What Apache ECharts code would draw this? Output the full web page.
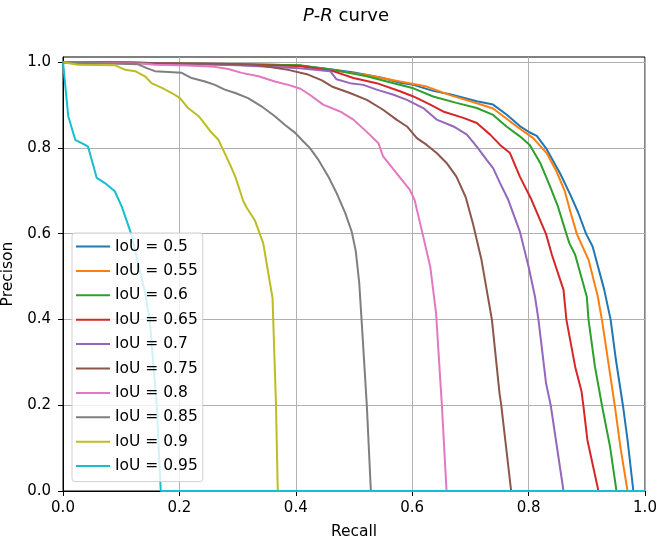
<!DOCTYPE html>
<html>
<head>
<meta charset="utf-8">
<script src="https://cdn.jsdelivr.net/npm/echarts@6/dist/echarts.min.js"></script>
<style>
  html, body { margin: 0; padding: 0; background: #fff; }
  #chart { width: 660px; height: 541px; }
</style>
</head>
<body>
<div id="chart"></div>
<script>
// tick positions on both axes
const xTicks = [0, 0.2, 0.4, 0.6, 0.8, 1.0]
const yTicks = [0, 0.2, 0.4, 0.6, 0.8, 1.0]

const iouNames = ['IoU = 0.5', 'IoU = 0.55', 'IoU = 0.6', 'IoU = 0.65', 'IoU = 0.7',
  'IoU = 0.75', 'IoU = 0.8', 'IoU = 0.85', 'IoU = 0.9', 'IoU = 0.95']
const colors = ['#1f77b4', '#ff7f0e', '#2ca02c', '#d62728', '#9467bd',
  '#8c564b', '#e377c2', '#7f7f7f', '#bcbd22', '#17becf']

// [recall, precision]
const iou50 = [[0, 1], [0.1, 0.999], [0.2, 0.997], [0.3, 0.995], [0.4, 0.993], [0.45, 0.985],
  [0.5, 0.976], [0.55, 0.963], [0.579, 0.952], [0.602, 0.947], [0.636, 0.933], [0.665, 0.925],
  [0.711, 0.909], [0.739, 0.901], [0.762, 0.878], [0.785, 0.851], [0.802, 0.836], [0.814, 0.828],
  [0.831, 0.797], [0.854, 0.741], [0.872, 0.690], [0.885, 0.650], [0.899, 0.599], [0.910, 0.570],
  [0.930, 0.469], [0.941, 0.399], [0.950, 0.306], [0.962, 0.2], [0.970, 0.119], [0.980, 0], [1, 0]]
const iou55 = [[0, 1], [0.1, 0.999], [0.2, 0.997], [0.3, 0.995], [0.4, 0.993], [0.45, 0.984],
  [0.493, 0.975], [0.522, 0.970], [0.579, 0.955], [0.625, 0.943], [0.665, 0.923], [0.711, 0.904],
  [0.739, 0.892], [0.768, 0.862], [0.791, 0.839], [0.808, 0.823], [0.831, 0.788], [0.848, 0.745],
  [0.862, 0.700], [0.872, 0.650], [0.883, 0.599], [0.903, 0.539], [0.919, 0.453], [0.926, 0.399],
  [0.937, 0.30], [0.948, 0.2], [0.958, 0.10], [0.970, 0], [1, 0]]
const iou60 = [[0, 1], [0.1, 0.999], [0.2, 0.997], [0.3, 0.995], [0.407, 0.993], [0.464, 0.982],
  [0.522, 0.967], [0.568, 0.951], [0.602, 0.939], [0.636, 0.920], [0.676, 0.905], [0.711, 0.893],
  [0.739, 0.877], [0.762, 0.850], [0.785, 0.827], [0.802, 0.807], [0.820, 0.765], [0.837, 0.710],
  [0.850, 0.665], [0.865, 0.599], [0.870, 0.578], [0.880, 0.551], [0.900, 0.453], [0.903, 0.399],
  [0.914, 0.290], [0.926, 0.2], [0.940, 0.103], [0.951, 0], [1, 0]]
const iou65 = [[0, 1], [0.1, 0.999], [0.2, 0.996], [0.3, 0.994], [0.407, 0.991], [0.464, 0.979],
  [0.499, 0.963], [0.539, 0.951], [0.579, 0.932], [0.602, 0.920], [0.631, 0.901], [0.653, 0.885],
  [0.688, 0.870], [0.711, 0.858], [0.734, 0.831], [0.751, 0.807], [0.768, 0.788], [0.785, 0.733],
  [0.805, 0.679], [0.830, 0.599], [0.840, 0.551], [0.860, 0.469], [0.865, 0.399], [0.880, 0.290],
  [0.891, 0.232], [0.894, 0.2], [0.901, 0.119], [0.920, 0], [1, 0]]
const iou70 = [[0, 1], [0.1, 0.999], [0.2, 0.996], [0.3, 0.993], [0.407, 0.986], [0.459, 0.979],
  [0.470, 0.960], [0.493, 0.951], [0.516, 0.947], [0.539, 0.936], [0.568, 0.924], [0.591, 0.912],
  [0.619, 0.893], [0.642, 0.866], [0.671, 0.850], [0.694, 0.831], [0.711, 0.803], [0.728, 0.772],
  [0.739, 0.753], [0.751, 0.718], [0.765, 0.679], [0.785, 0.605], [0.800, 0.523], [0.811, 0.453],
  [0.817, 0.399], [0.830, 0.251], [0.838, 0.2], [0.860, 0], [1, 0]]
const iou75 = [[0, 1], [0.1, 0.998], [0.2, 0.997], [0.273, 0.996], [0.330, 0.994], [0.387, 0.982],
  [0.421, 0.971], [0.444, 0.958], [0.464, 0.942], [0.493, 0.928], [0.522, 0.912], [0.550, 0.889],
  [0.573, 0.866], [0.591, 0.850], [0.608, 0.823], [0.625, 0.807], [0.642, 0.788], [0.659, 0.765],
  [0.676, 0.733], [0.692, 0.685], [0.705, 0.620], [0.719, 0.539], [0.737, 0.399], [0.750, 0.228],
  [0.753, 0.2], [0.770, 0], [1, 0]]
const iou80 = [[0, 1], [0.138, 0.996], [0.158, 0.994], [0.215, 0.992], [0.261, 0.989], [0.284, 0.984],
  [0.307, 0.975], [0.336, 0.967], [0.364, 0.955], [0.387, 0.947], [0.408, 0.938], [0.424, 0.924],
  [0.447, 0.901], [0.476, 0.885], [0.499, 0.866], [0.527, 0.831], [0.542, 0.811], [0.550, 0.780],
  [0.573, 0.741], [0.596, 0.702], [0.604, 0.679], [0.618, 0.599], [0.631, 0.523], [0.641, 0.415],
  [0.651, 0.2], [0.659, 0], [1, 0]]
const iou85 = [[0, 1], [0.05, 0.998], [0.129, 0.995], [0.144, 0.986], [0.158, 0.979], [0.204, 0.975],
  [0.221, 0.963], [0.244, 0.955], [0.261, 0.947], [0.278, 0.936], [0.296, 0.928], [0.318, 0.916],
  [0.341, 0.897], [0.364, 0.874], [0.381, 0.854], [0.399, 0.835], [0.413, 0.815], [0.424, 0.800],
  [0.439, 0.772], [0.456, 0.733], [0.470, 0.695], [0.485, 0.648], [0.496, 0.605], [0.503, 0.560],
  [0.509, 0.485], [0.513, 0.399], [0.522, 0.2], [0.529, 0], [1, 0]]
const iou90 = [[0, 1], [0.026, 0.994], [0.089, 0.993], [0.107, 0.982], [0.124, 0.979], [0.141, 0.967],
  [0.152, 0.951], [0.170, 0.940], [0.187, 0.928], [0.201, 0.916], [0.215, 0.893], [0.233, 0.874],
  [0.238, 0.866], [0.253, 0.839], [0.267, 0.819], [0.275, 0.796], [0.287, 0.761], [0.296, 0.733],
  [0.310, 0.675], [0.316, 0.660], [0.330, 0.630], [0.344, 0.578], [0.360, 0.450], [0.366, 0.2],
  [0.369, 0], [1, 0]]
const iou95 = [[0, 1], [0.009, 0.874], [0.021, 0.819], [0.038, 0.807], [0.043, 0.803], [0.058, 0.730],
  [0.072, 0.718], [0.089, 0.699], [0.101, 0.663], [0.117, 0.600], [0.140, 0.469], [0.149, 0.399],
  [0.161, 0.2], [0.168, 0], [1, 0]]

const curves = [iou50, iou55, iou60, iou65, iou70, iou75, iou80, iou85, iou90, iou95]

const font = 'DejaVu Sans'
const chart = echarts.init(document.getElementById('chart'))
chart.setOption({
  animation: false,
  backgroundColor: '#fff',
  color: colors,
  title: {
    text: '{i|P}{n|-}{i|R}{n| curve}',
    left: 341,
    textAlign: 'center',
    top: 2,
    textStyle: {
      fontWeight: 'normal',
      rich: {
        i: { fontFamily: font, fontSize: 18, fontStyle: 'italic', fontWeight: 'normal', color: '#000' },
        n: { fontFamily: font, fontSize: 18, fontWeight: 'normal', color: '#000' }
      }
    }
  },
  grid: {
    left: 63,
    right: 15,
    top: 57,
    bottom: 50,
    containLabel: false,
    outerBoundsMode: 'none',
    show: true,
    borderColor: '#000',
    borderWidth: 1
  },
  legend: {
    orient: 'vertical',
    left: 72,
    top: 233,
    data: iouNames,
    icon: 'rect',
    itemWidth: 34,
    itemHeight: 2,
    itemGap: 7.4,
    padding: [5, 5, 7, 4],
    backgroundColor: 'rgba(255,255,255,0.8)',
    borderColor: '#d0d0d0',
    borderWidth: 1,
    borderRadius: 3,
    textStyle: { fontFamily: font, fontSize: 15.5, lineHeight: 17, color: '#000' }
  },
  xAxis: {
    type: 'value',
    min: 0,
    max: 1,
    name: 'Recall',
    nameLocation: 'middle',
    nameGap: 33,
    nameTextStyle: { fontFamily: font, fontSize: 15.5, color: '#000' },
    axisLine: { lineStyle: { color: '#000', width: 1 } },
    axisTick: { show: true, length: 5, customValues: xTicks, lineStyle: { color: '#000' } },
    axisLabel: {
      customValues: xTicks,
      margin: 10,
      fontFamily: font,
      fontSize: 15,
      color: '#000',
      formatter: v => v.toFixed(1)
    },
    splitLine: { show: true, lineStyle: { color: '#b0b0b0', width: 1 } }
  },
  yAxis: {
    type: 'value',
    min: 0,
    max: 1.012,
    name: 'Precison',
    nameLocation: 'middle',
    nameGap: 45,
    nameTextStyle: { fontFamily: font, fontSize: 15.5, color: '#000' },
    axisLine: { show: true, lineStyle: { color: '#000', width: 1 } },
    axisTick: { show: true, length: 5, customValues: yTicks, lineStyle: { color: '#000' } },
    axisLabel: {
      customValues: yTicks,
      margin: 12,
      fontFamily: font,
      fontSize: 15,
      color: '#000',
      formatter: v => v.toFixed(1)
    },
    splitLine: { show: true, lineStyle: { color: '#b0b0b0', width: 1 } }
  },
  series: curves.map((d, i) => ({
    name: iouNames[i],
    type: 'line',
    data: d,
    showSymbol: false,
    symbol: 'none',
    lineStyle: { width: 2 }
  }))
})
</script>
</body>
</html>
